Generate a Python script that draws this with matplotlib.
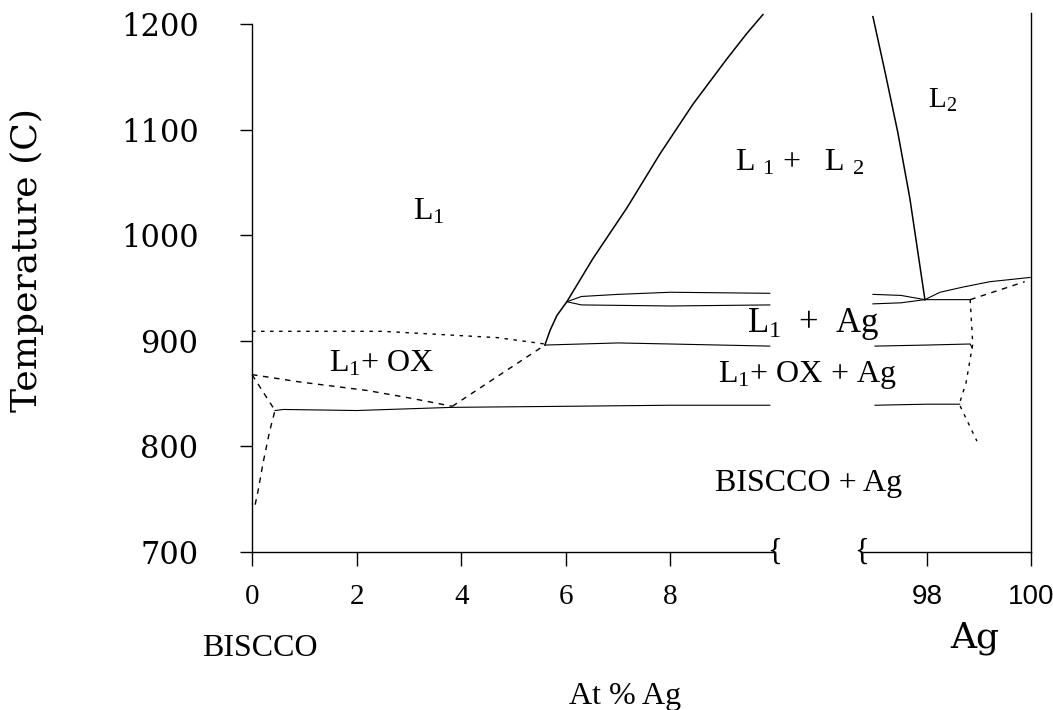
import matplotlib.pyplot as plt
import numpy as np

plt.rcParams['mathtext.fontset'] = 'custom'
plt.rcParams['mathtext.rm'] = 'Liberation Serif'
plt.rcParams['mathtext.it'] = 'Liberation Serif:italic'

# axis ticks
t_ticks = [700, 800, 900, 1000, 1100, 1200]
left_ticks = [0, 2, 4, 6, 8]
right_ticks = [98, 100]

# ---- left part (0-10 at% Ag) ----
# L1 / L1+L2 liquidus
liq_x = [5.6, 5.7, 5.83, 6.02, 6.52, 7.17, 7.8, 8.43, 9.08, 9.46, 9.77]
liq_t = [896, 910, 924, 937, 978, 1026, 1077, 1124, 1167, 1191, 1209]
# upper pair of horizontals near 940
up_a_x = [6.02, 6.3, 7.0, 8.0, 9.9]
up_a_t = [937, 942, 944, 946, 945]
up_b_x = [6.02, 6.3, 8.0, 9.9]
up_b_t = [937, 934, 933, 934]
# horizontal at ~897
h900_x = [5.6, 7.0, 8.0, 9.9]
h900_t = [896, 898, 897, 895]
# horizontal at ~838
h840_x = [0.44, 0.6, 2.0, 3.83, 6.0, 8.0, 9.9]
h840_t = [834, 835, 834, 837, 838, 839, 839]
# short-dashed boundary L1 / L1+OX
dot_x = [0.0, 1.0, 2.5, 4.7, 5.6]
dot_t = [909, 909, 909, 903, 897]
# dashed boundary L1+OX lower
dsh_x = [0.0, 0.92, 2.2, 3.0, 3.83]
dsh_t = [868, 861, 853, 846, 838]
# dashed from 3.83 up to 5.6
dsh2_x = [3.83, 5.6]
dsh2_t = [838, 896]
# dashed near pure BISCCO
dsh3_x = [0.0, 0.44, 0.34, 0.21, 0.12, 0.04]
dsh3_t = [868, 834, 815, 784, 759, 740]

# ---- right part (97-100 at% Ag) ----
l2_x = [96.96, 97.2, 97.44, 97.67, 97.96]
l2_t = [1207, 1153, 1097, 1035, 939]
r_up_x = [97.96, 98.25, 98.7, 99.21, 99.98]
r_up_t = [939, 946, 951, 956, 960]
r_dash_x = [98.83, 99.88]
r_dash_t = [939, 956]
r_pa_x = [96.96, 97.5, 97.96]
r_pa_t = [944, 943, 939]
r_pb_x = [96.96, 97.5, 97.96, 98.83]
r_pb_t = [935, 936, 939, 939]
r_vd_x = [98.83, 98.88, 98.75, 98.62, 98.96]
r_vd_t = [939, 897, 860, 840, 805]
r_h900_x = [97.0, 98.0, 98.83, 98.87]
r_h900_t = [895, 896, 897, 893]
r_h840_x = [97.0, 98.0, 98.63]
r_h840_t = [839, 840, 840]

fig = plt.figure(figsize=(10.53, 7.10), dpi=100)
ax1 = fig.add_axes([252 / 1053, 0.2225, 523 / 1053, 0.7615])
ax2 = fig.add_axes([862 / 1053, 0.2225, 169 / 1053, 0.7615])

for ax in (ax1, ax2):
    ax.set_ylim(700, 1212)
    ax.patch.set_visible(False)
    ax.spines['top'].set_visible(False)
    for s in ax.spines.values():
        s.set_linewidth(1.0)

ax1.set_xlim(0, 10.0)
ax2.set_xlim(96.75, 100.0)
ax1.spines['right'].set_visible(False)
ax1.spines['left'].set_bounds(700, 1200)
ax2.spines['left'].set_visible(False)
ax2.spines['right'].set_bounds(700, 1210)

ax1.set_yticks(t_ticks, labels=[str(t) for t in t_ticks],
               fontfamily='DejaVu Serif', fontsize=22)
ax1.tick_params(axis='y', direction='out', length=8.5, width=1, pad=30)
ax1.set_xticks(left_ticks, labels=[str(v) for v in left_ticks],
               fontfamily='Liberation Serif', fontsize=21)
ax1.tick_params(axis='x', direction='out', length=10, width=1, pad=13)

ax2.tick_params(axis='y', left=False, right=False, labelleft=False)
ax2.set_xticks(right_ticks, labels=[str(v) for v in right_ticks],
               fontfamily='Liberation Sans', fontsize=20)
ax2.tick_params(axis='x', direction='out', length=10, width=1, pad=13)

solid = dict(color='black', lw=1.1, clip_on=False)
thin = dict(color='black', lw=0.8, clip_on=False)
dashed = dict(color='black', lw=1.0, ls=(0, (4, 4)), clip_on=False)
dotted = dict(color='black', lw=1.0, ls=(0, (2.5, 4)), clip_on=False)

ax1.plot(liq_x, liq_t, **solid)
ax1.plot(up_a_x, up_a_t, **thin)
ax1.plot(up_b_x, up_b_t, **thin)
ax1.plot(h900_x, h900_t, **thin)
ax1.plot(h840_x, h840_t, **thin)
ax1.plot(dot_x, dot_t, **dotted)
ax1.plot(dsh_x, dsh_t, **dashed)
ax1.plot(dsh2_x, dsh2_t, **dashed)
ax1.plot(dsh3_x, dsh3_t, **dashed)

ax2.plot(l2_x, l2_t, **solid)
ax2.plot(r_up_x, r_up_t, **thin)
ax2.plot(r_dash_x, r_dash_t, **dashed)
ax2.plot(r_pa_x, r_pa_t, **thin)
ax2.plot(r_pb_x, r_pb_t, **thin)
ax2.plot(r_vd_x, r_vd_t, **dotted)
ax2.plot(r_h900_x, r_h900_t, **thin)
ax2.plot(r_h840_x, r_h840_t, **thin)

# axis break marks
ax1.text(1.0, 0.0, '{', transform=ax1.transAxes, ha='center', va='center',
         fontsize=22, family='Liberation Serif')
ax2.text(0.0, 0.0, '{', transform=ax2.transAxes, ha='center', va='center',
         fontsize=22, family='Liberation Serif')

# phase field labels
lab = dict(ha='center', va='center', fontsize=23, family='Liberation Serif',
           clip_on=False, zorder=5)
ax1.text(3.38, 1022, r'L$_{1}$', **lab)
ax1.text(2.49, 878, r'L$_{1}$+ OX', **lab)
ax1.text(10.48, 1069, r'L $_{1}$ +   L $_{2}$', **lab)
ax1.text(10.73, 916, r'L$_{1}$  +  Ag', ha='center', va='center', fontsize=25,
         family='Liberation Serif', clip_on=False, zorder=5)
ax1.text(10.61, 868, r'L$_{1}$+ OX + Ag', **lab)
ax1.text(10.65, 765, 'BISCCO + Ag', **lab)
ax2.text(98.3, 1128, r'L$_{2}$', ha='center', va='center', fontsize=21,
         family='Liberation Serif', clip_on=False)

# outside labels
ax1.text(0.15, 609, 'BISCCO', ha='center', va='center', fontsize=23,
         family='Liberation Serif', clip_on=False)
ax1.text(7.13, 563, 'At % Ag', ha='center', va='center', fontsize=23,
         family='Liberation Serif', clip_on=False)
ax2.text(98.92, 619, 'Ag', ha='center', va='center', fontsize=26,
         family='DejaVu Serif', clip_on=False)
fig.text(27 / 1053, (710 - 260) / 710, 'Temperature (C)', rotation=90,
         ha='center', va='center', fontsize=26, family='DejaVu Serif')

fig.savefig('out.png', dpi=100, facecolor='white')
